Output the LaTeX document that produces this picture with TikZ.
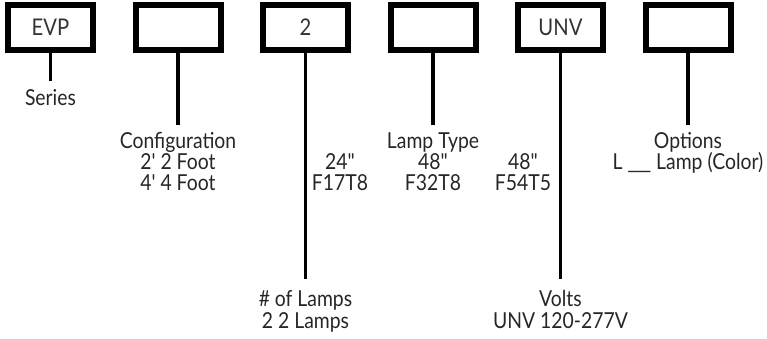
\documentclass[tikz,border=0pt]{standalone}
\usepackage{fontspec}
\newfontfamily\lab{Lato}[FakeStretch=0.88]
\begin{document}
\begin{tikzpicture}[x=1pt,y=-1pt,
  codebox/.style={draw=black,line width=6pt,minimum width=85pt,minimum height=45pt,inner sep=0pt,font=\lab\fontsize{23}{23}\selectfont,text=black!80},
  lbl/.style={anchor=base,inner sep=0pt,font=\lab\fontsize{22}{22}\selectfont,text=black!85},
  lead/.style={line width=3.2pt}]
\useasboundingbox (0,0) rectangle (767,338);
% boxes
\node[codebox] (b1) at (50.5,27.5) {EVP};
\node[codebox] (b2) at (178,27.5) {};
\node[codebox] (b3) at (305.5,27.5) {2};
\node[codebox] (b4) at (433,27.5) {};
\node[codebox] (b5) at (560.5,27.5) {UNV};
\node[codebox] (b6) at (688,27.5) {};
% leader ends
\coordinate (e1) at (50.5,81);
\coordinate (e2) at (178,125);
\coordinate (e3) at (305.5,279);
\coordinate (e4) at (433,125);
\coordinate (e5) at (560.5,279);
\coordinate (e6) at (688,125);
\foreach \i in {1,...,6} \draw[lead] (b\i.south) -- (e\i);
% labels
\node[lbl] (series) at (50.5,105) {Series};
\node[lbl] (conf) at (178,148) {Configuration};
\node[lbl] (conf1) at (178,169) {2' 2 Foot};
\node[lbl] (conf2) at (178,190) {4' 4 Foot};
\node[lbl] (lamps) at (305.5,306) {\# of Lamps};
\node[lbl] (lamps1) at (305.5,328) {2 2 Lamps};
\node[lbl] (ltype) at (433,148) {Lamp Type};
\node[lbl] (lt1a) at (340,169) {24"};
\node[lbl] (lt1b) at (340,190) {F17T8};
\node[lbl] (lt2a) at (433,169) {48"};
\node[lbl] (lt2b) at (433,190) {F32T8};
\node[lbl] (lt3a) at (523,169) {48"};
\node[lbl] (lt3b) at (523,190) {F54T5};
\node[lbl] (volts) at (560.5,306) {Volts};
\node[lbl] (volts1) at (560.5,328) {UNV 120-277V};
\node[lbl] (opt) at (688,148) {Options};
\node[lbl] (opt1) at (688,169) {L \_\kern-1.5pt\_\kern-1.5pt\_ Lamp (Color)};
\end{tikzpicture}
\end{document}
